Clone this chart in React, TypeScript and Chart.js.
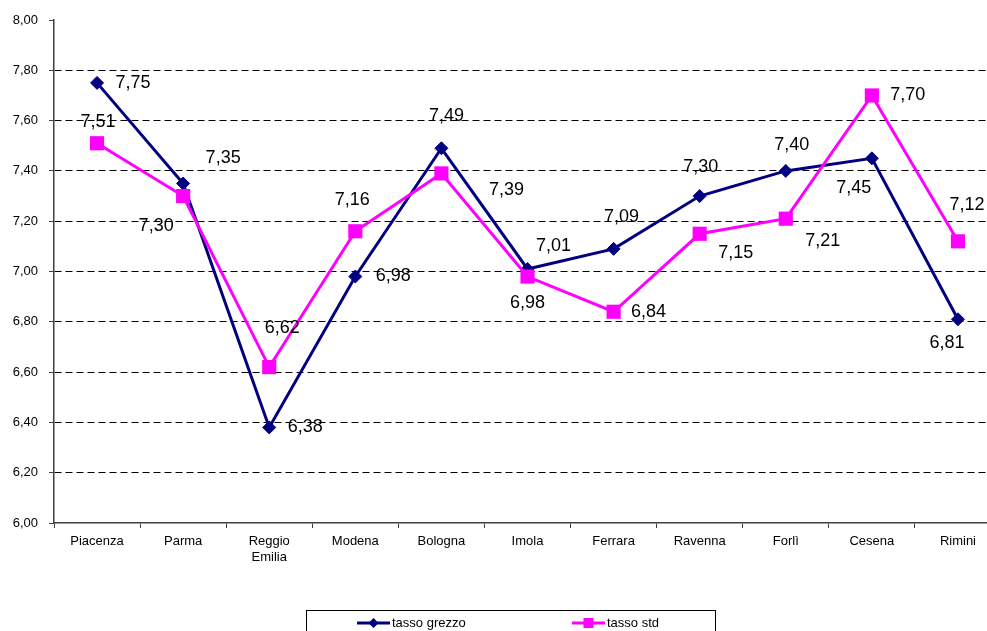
import React, { useEffect, useRef } from "react";
import { Chart, registerables } from "chart.js";

Chart.register(...registerables);

const categories = [
  "Piacenza",
  "Parma",
  ["Reggio", "Emilia"],
  "Modena",
  "Bologna",
  "Imola",
  "Ferrara",
  "Ravenna",
  "Forlì",
  "Cesena",
  "Rimini",
];

const tassoGrezzo = [7.75, 7.35, 6.38, 6.98, 7.49, 7.01, 7.09, 7.3, 7.4, 7.45, 6.81];
const tassoStd = [7.51, 7.3, 6.62, 7.16, 7.39, 6.98, 6.84, 7.15, 7.21, 7.7, 7.12];

const yTickLabels = ["6,00", "6,20", "6,40", "6,60", "6,80", "7,00", "7,20", "7,40", "7,60", "7,80", "8,00"];

const seriesNames = ["tasso grezzo", "tasso std"];

// label offsets (pixels) relative to each point
const grezzoLabelOffsets: [number, number][] = [
  [36, 0], [40, -25], [36, 0], [38, 0], [5, -32], [26, -23], [8, -32], [1, -29], [6, -26], [-18, 30], [-11, 24],
];
const stdLabelOffsets: [number, number][] = [
  [1, -21], [-27, 30], [13, -39], [-3, -31], [65, 17], [0, 27], [35, 0], [36, 19], [37, 22], [36, 0], [9, -36],
];

const FONT = "'Liberation Sans', Arial, sans-serif";
const NAVY = "#000080";
const MAGENTA = "#FF00FF";
const AXIS = "#404040";

const fmt = (v: number) => v.toFixed(2).replace(".", ",");

const labelPlugin = {
  id: "pointLabels",
  afterDatasetsDraw(chart: any) {
    const ctx = chart.ctx;
    ctx.save();
    ctx.font = `18px ${FONT}`;
    ctx.fillStyle = "#000";
    ctx.textAlign = "center";
    ctx.textBaseline = "middle";
    const offsets = [grezzoLabelOffsets, stdLabelOffsets];
    chart.data.datasets.forEach((ds: any, di: number) => {
      const meta = chart.getDatasetMeta(di);
      meta.data.forEach((pt: any, i: number) => {
        const [dx, dy] = offsets[di][i];
        ctx.fillText(fmt(ds.data[i]), pt.x + dx, pt.y + dy);
      });
    });
    ctx.restore();
  },
};

const legendPlugin = {
  id: "boxLegend",
  afterDraw(chart: any) {
    const ctx = chart.ctx;
    ctx.save();
    ctx.strokeStyle = "#000";
    ctx.lineWidth = 1;
    ctx.strokeRect(306.5, 610.5, 409, 40);
    const cy = 623;
    const items = [
      { x: 357, color: NAVY, style: "diamond", text: seriesNames[0] },
      { x: 572, color: MAGENTA, style: "square", text: seriesNames[1] },
    ];
    items.forEach((it) => {
      ctx.strokeStyle = it.color;
      ctx.fillStyle = it.color;
      ctx.lineWidth = 3;
      ctx.beginPath();
      ctx.moveTo(it.x, cy);
      ctx.lineTo(it.x + 33, cy);
      ctx.stroke();
      const mx = it.x + 16.5;
      if (it.style === "diamond") {
        ctx.beginPath();
        ctx.moveTo(mx, cy - 5);
        ctx.lineTo(mx + 5, cy);
        ctx.lineTo(mx, cy + 5);
        ctx.lineTo(mx - 5, cy);
        ctx.closePath();
        ctx.fill();
      } else {
        ctx.fillRect(mx - 5, cy - 5, 10, 10);
      }
      ctx.fillStyle = "#000";
      ctx.font = `13px ${FONT}`;
      ctx.textAlign = "left";
      ctx.textBaseline = "middle";
      ctx.fillText(it.text, it.x + 35, cy);
    });
    ctx.restore();
  },
};

export default function App() {
  const canvasRef = useRef<HTMLCanvasElement | null>(null);

  useEffect(() => {
    if (!canvasRef.current) return;
    const chart = new Chart(canvasRef.current, {
      type: "line",
      data: {
        labels: categories as any,
        datasets: [
          {
            label: seriesNames[0],
            data: tassoGrezzo,
            borderColor: NAVY,
            backgroundColor: NAVY,
            borderWidth: 3,
            pointStyle: "rectRot",
            pointRadius: 6.5,
            pointBackgroundColor: NAVY,
            pointBorderColor: NAVY,
            pointBorderWidth: 1,
            tension: 0,
            order: 1,
          },
          {
            label: seriesNames[1],
            data: tassoStd,
            borderColor: MAGENTA,
            backgroundColor: MAGENTA,
            borderWidth: 3,
            pointStyle: "rect",
            pointRadius: 10,
            pointBackgroundColor: MAGENTA,
            pointBorderColor: MAGENTA,
            pointBorderWidth: 0,
            tension: 0,
            order: 0,
          },
        ],
      },
      options: {
        responsive: false,
        animation: false,
        layout: { padding: { top: 20, right: 2, left: 0, bottom: 0 } },
        plugins: {
          legend: { display: false },
          tooltip: { enabled: false },
        },
        scales: {
          x: {
            type: "category",
            offset: true,
            afterFit: (scale: any) => {
              scale.height = 108;
            },
            grid: {
              offset: true,
              drawOnChartArea: false,
              drawTicks: true,
              tickLength: 5,
              tickColor: AXIS,
              tickWidth: 1,
            },
            border: { display: true, color: AXIS, width: 1.5 },
            ticks: {
              color: "#000",
              font: { family: FONT, size: 13 },
              padding: 6,
              maxRotation: 0,
              autoSkip: false,
            },
          },
          y: {
            min: 6,
            max: 8,
            afterFit: (scale: any) => {
              scale.width = 54;
            },
            ticks: {
              stepSize: 0.2,
              color: "#000",
              font: { family: FONT, size: 13 },
              padding: 11,
              callback: (_v: any, i: number) => yTickLabels[i],
            },
            grid: {
              color: (ctx: any) => {
                const i = ctx.index;
                if (i === 0 || i === yTickLabels.length - 1) return "rgba(0,0,0,0)";
                return "#000";
              },
              lineWidth: 1,
              drawTicks: true,
              tickLength: 5,
              tickColor: AXIS,
              tickWidth: 1,
              tickBorderDash: [],
            },
            border: { display: true, color: AXIS, width: 1.5, dash: [7, 4] },
          },
        },
      },
      plugins: [labelPlugin, legendPlugin],
    });
    return () => chart.destroy();
  }, []);

  return (
    <div
      style={{
        position: "absolute",
        left: 0,
        top: 0,
        width: 987,
        height: 631,
        overflow: "hidden",
        background: "#fff",
      }}
    >
      <canvas ref={canvasRef} width={1011} height={631} style={{ display: "block" }} />
    </div>
  );
}
